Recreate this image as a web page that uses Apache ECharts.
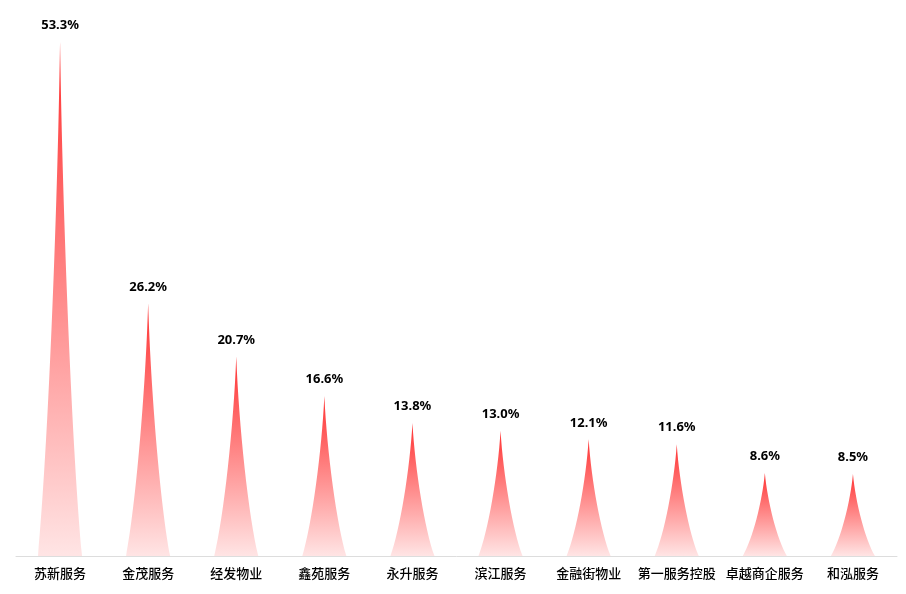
<!DOCTYPE html>
<html>
<head>
<meta charset="utf-8">
<script src="https://cdn.jsdelivr.net/npm/echarts@6/dist/echarts.min.js"></script>
<style>
html,body{margin:0;padding:0;background:#fff;}
#chart{width:906px;height:594px;}
</style>
</head>
<body>
<div id="chart"></div>
<script>
var categories = ['苏新服务','金茂服务','经发物业','鑫苑服务','永升服务','滨江服务','金融街物业','第一服务控股','卓越商企服务','和泓服务'];
var values = [53.3, 26.2, 20.7, 16.6, 13.8, 13.0, 12.1, 11.6, 8.6, 8.5];

var chart = echarts.init(document.getElementById('chart'));
chart.setOption({
  backgroundColor: '#ffffff',
  animation: false,
  grid: { left: 16, right: 9, top: 42, bottom: 38, containLabel: false },
  xAxis: {
    type: 'category',
    data: categories,
    axisLine: { show: true, lineStyle: { color: '#dddddd', width: 1 } },
    axisTick: { show: false },
    axisLabel: {
      interval: 0,
      margin: 11,
      color: '#000000',
      fontSize: 13,
      fontFamily: 'Noto Sans CJK SC',
      fontWeight: 500
    }
  },
  yAxis: {
    type: 'value',
    min: 0,
    max: 'dataMax',
    show: false,
    splitLine: { show: false }
  },
  series: [{
    type: 'pictorialBar',
    barCategoryGap: '50%',
    symbol: 'path://M0,10 L10,10 C7.8,8 5.6,3.5 5,0 C4.4,3.5 2.2,8 0,10 z',
    data: values,
    label: {
      show: true,
      position: 'top',
      distance: 10,
      color: '#000000',
      fontSize: 13,
      fontWeight: 'bold',
      fontFamily: 'Noto Sans, Noto Sans CJK SC',
      formatter: function (p) { return p.value.toFixed(1) + '%'; }
    },
    itemStyle: {
      color: {
        type: 'linear', x: 0, y: 0, x2: 0, y2: 1,
        colorStops: [
          { offset: 0, color: 'rgba(255,50,50,1)' },
          { offset: 1, color: 'rgba(255,50,50,0.13)' }
        ]
      }
    }
  }]
});
</script>
</body>
</html>
